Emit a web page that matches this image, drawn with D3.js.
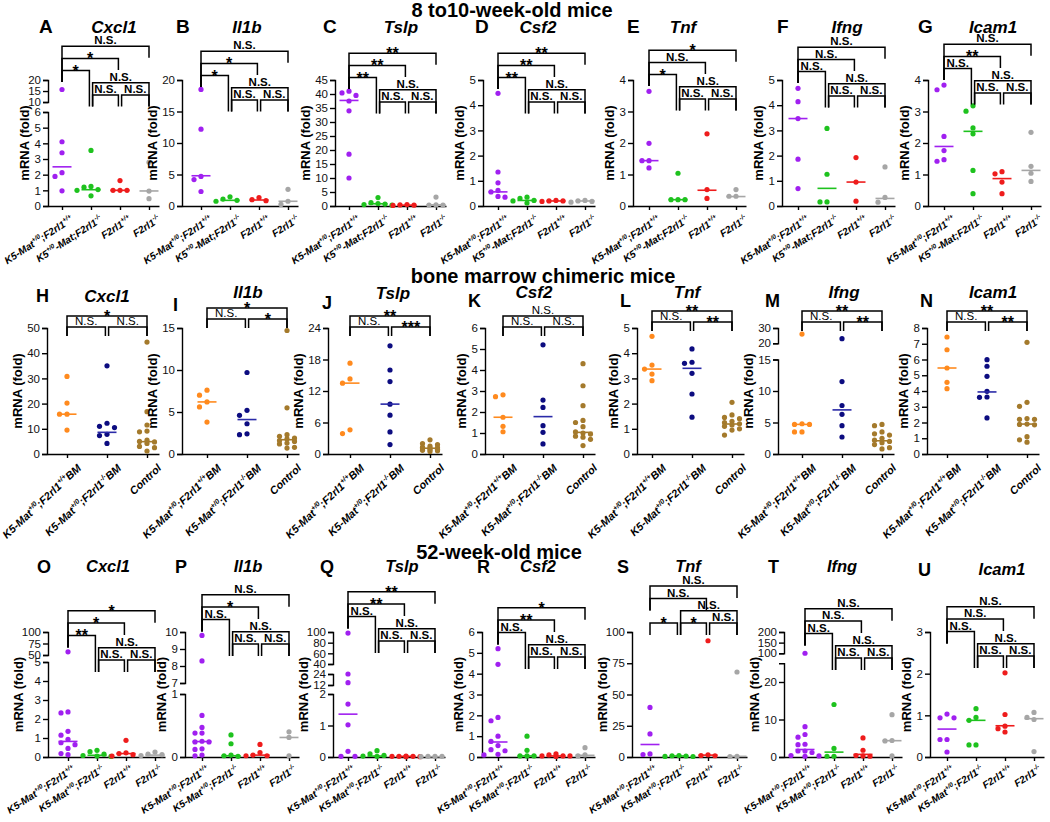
<!DOCTYPE html>
<html><head><meta charset="utf-8">
<script src="https://cdn.jsdelivr.net/npm/d3@7"></script>
<style>
body{margin:0;background:#fff}
svg{display:block}
</style>
</head><body>
<svg id="c" width="1050" height="822"></svg>
<script>
// ================= DATA =================
const rowTitles = ["8 to10-week-old mice", "bone marrow chimeric mice", "52-week-old mice"];
const genes = ["Cxcl1", "Il1b", "Tslp", "Csf2", "Tnf", "Ifng", "Icam1"];
const letters1 = ["A", "B", "C", "D", "E", "F", "G"];
const letters2 = ["H", "I", "J", "K", "L", "M", "N"];
const letters3 = ["O", "P", "Q", "R", "S", "T", "U"];
const yLabel = "mRNA (fold)";
const groups1 = ["K5-Mat^{+/0};F2rl1^{+/+}", "K5^{+/0}-Mat;F2rl1^{-/-}", "F2rl1^{+/+}", "F2rl1^{-/-}"];
const groups2 = ["K5-Mat^{+/0};F2rl1^{+/+}BM", "K5-Mat^{+/0};F2rl1^{-/-}BM", "Control"];
const groups3 = ["K5-Mat^{+/0};F2rl1^{+/+}", "K5-Mat^{+/0};F2rl1^{-/-}", "F2rl1^{+/+}", "F2rl1^{-/-}"];
// bracket pairs (order of the significance label arrays)
const pairs4 = [[0,3],[0,2],[0,1],[1,3],[1,2],[2,3]];
const pairs3 = [[0,2],[0,1],[1,2]];

// ---- 8 to 10-week-old mice ----
const A_vals = [[15.7,4.1,3.4,2.13,1.89,0.97],[3.55,1.25,1.2,1.05,1.0,0.65],[1.62,1.0,1.0,1.0],[2.8,0.95,0.47]];
const A_med = [2.5,1.04,1.0,0.96];
const A_dom = [[0,6],[10,20]];
const A_ticks = [[0,1,2,3,4,5,6],[10,15,20]];
const A_sig = ["N.S.","*","*","N.S.","N.S.","N.S."];

const B_vals = [[18.5,12.2,4.7,4.2,2.3],[1.45,1.1,0.9,0.75],[1.35,1.0,0.85],[2.65,0.75,0.25]];
const B_med = [4.8,0.9,0.95,0.75];
const B_dom = [[0,20]];
const B_ticks = [[0,5,10,15,20]];
const B_sig = ["N.S.","*","*","N.S.","N.S.","N.S."];

const C_vals = [[41,40.4,39.5,37.5,34,18.5,10],[3.0,1.2,0.9,0.7,0.5,0.3],[0.5,0.4,0.3,0.2],[3.2,0.4,0.35,0.3]];
const C_med = [37.7,0.8,0.3,0.4];
const C_dom = [[0,45]];
const C_ticks = [[0,5,10,15,20,25,30,35,40,45]];
const C_sig = ["**","**","**","N.S.","N.S.","N.S."];

const D_vals = [[4.47,1.35,0.92,0.62,0.56,0.38,0.35],[0.35,0.3,0.22,0.2,0.12],[0.22,0.2,0.2,0.18],[0.22,0.2,0.18,0.15]];
const D_med = [0.56,0.22,0.2,0.2];
const D_dom = [[0,5]];
const D_ticks = [[0,1,2,3,4,5]];
const D_sig = ["**","**","**","N.S.","N.S.","N.S."];

const E_vals = [[3.64,1.99,1.44,1.44,1.21],[1.04,0.2,0.2,0.2],[2.29,0.52,0.24],[0.52,0.31,0.31]];
const E_med = [1.44,0.2,0.5,0.3];
const E_dom = [[0,4]];
const E_ticks = [[0,1,2,3,4]];
const E_sig = ["*","N.S.","*","N.S.","N.S.","N.S."];

const F_vals = [[4.67,4.14,3.47,1.86,0.69],[3.08,1.26,0.16,0.16],[1.92,0.95,0.19],[1.55,0.34,0.15]];
const F_med = [3.47,0.7,0.95,0.3];
const F_dom = [[0,5]];
const F_ticks = [[0,1,2,3,4,5]];
const F_sig = ["N.S.","N.S.","N.S.","N.S.","N.S.","N.S."];

const G_vals = [[3.84,3.69,2.21,1.76,1.47,1.42],[3.18,3.01,2.48,2.29,1.13,0.39],[1.09,1.02,0.76,0.39],[2.34,1.26,1.04,0.78]];
const G_med = [1.89,2.37,0.87,1.13];
const G_dom = [[0,4]];
const G_ticks = [[0,1,2,3,4]];
const G_sig = ["N.S.","**","N.S.","N.S.","N.S.","N.S."];

// ---- bone marrow chimeric mice ----
const H_vals = [[30.8,20.2,15.8,15.8,9.5],[35,12.2,11,10.5,7.8,7.3,4.2],[44.4,16.8,11.5,9.1,8.8,5.5,5.0,4.8,4.2,3.0,2.5,1.2]];
const H_med = [15.8,8.6,4.9];
const H_dom = [[0,50]];
const H_ticks = [[0,10,20,30,40,50]];
const H_sig = ["*","N.S.","N.S."];

const I_vals = [[7.6,7.0,6.2,5.6,3.8],[9.7,5.2,4.6,3.6,2.4,2.3],[14.7,5.5,2.3,2.1,1.9,1.8,1.6,1.5,1.3,1.2,0.8,0.7]];
const I_med = [6.2,4.1,1.7];
const I_dom = [[0,15]];
const I_ticks = [[0,5,10,15]];
const I_sig = ["*","N.S.","*"];

const J_vals = [[17.3,14.3,13.5,4.6,3.9],[20.6,16,13.8,9.5,7.4,4.2,1.8],[2.7,2.0,1.8,1.5,1.3,1.2,1.1,1.0,0.9,0.8,0.7,0.6,0.5]];
const J_med = [13.5,9.5,1.1];
const J_dom = [[0,24]];
const J_ticks = [[0,6,12,18,24]];
const J_sig = ["**","N.S.","***"];

const K_vals = [[2.82,2.73,1.75,1.32,1.06],[5.2,2.57,2.22,1.35,1.03,0.48],[4.3,3.25,2.3,1.6,1.5,1.3,1.05,1.0,0.95,0.85,0.8,0.7,0.4]];
const K_med = [1.75,1.78,1.03];
const K_dom = [[0,6]];
const K_ticks = [[0,1,2,3,4,5,6]];
const K_sig = ["N.S.","N.S.","N.S."];

const L_vals = [[4.67,3.53,3.37,3.17,2.91],[4.17,3.64,3.6,3.2,2.38,1.46],[2.05,1.55,1.45,1.4,1.3,1.25,1.2,1.15,1.1,1.0,0.95,0.75]];
const L_med = [3.37,3.4,1.19];
const L_dom = [[0,5]];
const L_ticks = [[0,1,2,3,4,5]];
const L_sig = ["**","N.S.","**"];

const M_vals = [[26,4.8,4.7,4.7,3.5,3.5],[23,11.5,7.7,6.3,4.5,2.7],[4.7,4.5,3.5,3.2,3.0,2.5,2.2,2.0,1.8,1.5,1.0,0.8]];
const M_med = [4.7,7.0,2.1];
const M_dom = [[0,15],[20,30]];
const M_ticks = [[0,5,10,15],[20,30]];
const M_sig = ["**","N.S.","**"];

const N_vals = [[7.43,6.62,5.46,4.55,4.15],[5.99,5.57,4.93,3.98,3.62,3.6,2.29],[7.09,3.28,3.03,2.25,2.2,2.2,1.9,1.88,1.85,1.1,0.9,0.75]];
const N_med = [5.46,3.94,1.9];
const N_dom = [[0,8]];
const N_ticks = [[0,1,2,3,4,5,6,7,8]];
const N_sig = ["**","N.S.","**"];

// ---- 52-week-old mice ----
const O_vals = [[57,2.37,2.32,1.35,1.15,0.93,0.75,0.65,0.45,0.18,0.12],[0.35,0.28,0.15,0.08,0.05,0.03],[0.88,0.22,0.18,0.12,0.05],[0.26,0.15,0.12,0.08]];
const O_med = [0.82,0.09,0.18,0.1];
const O_dom = [[0,5],[50,100]];
const O_ticks = [[0,1,2,3,4,5],[50,75,100]];
const O_sig = ["*","*","**","N.S.","N.S.","N.S."];

const P_vals = [[9.8,8.3,0.66,0.47,0.38,0.38,0.25,0.24,0.24,0.13,0.12,0.03,0.02],[0.35,0.21,0.03,0.02,0.01],[0.2,0.07,0.03,0.02,0.02],[0.4,0.31,0.02]];
const P_med = [0.245,0.02,0.03,0.31];
const P_dom = [[0,1],[7,10]];
const P_ticks = [[0,1],[7,8,9,10]];
const P_sig = ["N.S.","*","N.S.","N.S.","N.S.","N.S."];

const Q_vals = [[98,24,14.5,1.68,1.02,0.18,0.02,0.02],[0.2,0.1,0.05,0.03,0.02],[0.03,0.02,0.02,0.02,0.01,0.01],[0.02,0.02,0.02,0.01]];
const Q_med = [1.36,0.03,0.02,0.01];
const Q_dom = [[0,2],[12,24],[40,100]];
const Q_ticks = [[0,1,2],[12,24],[40,60,80,100]];
const Q_sig = ["**","**","N.S.","N.S.","N.S.","N.S."];

const R_vals = [[5.2,4.45,1.9,1.74,1.0,0.75,0.55,0.35,0.3,0.13,0.1],[1.0,0.32,0.05,0.05,0.05],[0.15,0.1,0.05,0.05,0.05,0.03],[0.45,0.1,0.05]];
const R_med = [0.72,0.05,0.05,0.08];
const R_dom = [[0,6]];
const R_ticks = [[0,1,2,3,4,5,6]];
const R_sig = ["*","**","N.S.","N.S.","N.S.","N.S."];

const S_vals = [[39.7,18.5,2.5,2.0],[1.2,1.0,0.8,0.5,0.4],[93,1.8,1.2,1.0],[68,0.6,0.4]];
const S_med = [10,0.8,1.5,0.5];
const S_dom = [[0,100]];
const S_ticks = [[0,25,50,75,100]];
const S_sig = ["N.S.","N.S.","*","N.S.","*","N.S."];

const T_vals = [[100,8.1,6.0,5.3,3.4,3.3,1.6,1.6,1.2,0.4,0.3,0.2],[14,2.3,0.2,0.2],[5.1,1.8,0.4,0.3,0.2],[11.3,4.4,4.3,0.3]];
const T_med = [2.0,1.3,0.7,4.35];
const T_dom = [[0,25],[100,200]];
const T_ticks = [[0,10,20],[100,150,200]];
const T_sig = ["N.S.","N.S.","N.S.","N.S.","N.S.","N.S."];

const U_vals = [[1.03,0.94,0.94,0.42,0.42,0.12],[1.16,0.95,0.88,0.29,0.29],[2.02,1.02,0.74,0.68,0.6],[1.07,0.95,0.9,0.13]];
const U_med = [0.67,0.88,0.75,0.92];
const U_dom = [[0,3]];
const U_ticks = [[0,1,2,3]];
const U_sig = ["N.S.","N.S.","N.S.","N.S.","N.S.","N.S."];

// ================= STYLE / LAYOUT =================
const FONT = "'Liberation Sans', Arial, Helvetica, sans-serif";
const colors4 = ["#a020f0", "#1ec21e", "#ee1c1c", "#a6a6a6"];
const colors3 = ["#ff8a1e", "#0c0c80", "#a47a2c"];
const medColors3 = ["#ff8a1e", "#2a2aa8", "#a47a2c"];
const levels4 = [4,3,2,1,0,0];
const levels4S = [3,2,0,1,0,0];
const levels3 = [1,0,0];

const row1 = {yB:206, yT:80, step:29, padR:10, angle:-33, ldx:12, ldy:15, lfs:10.1, spacing:12.2, leg:11.5, nsWeight:"bold", s:7, maxK:4, letterY:33, geneY:33, letterFs:19, geneFs:17};
const row2 = {yB:454, yT:328, step:40, padR:12, angle:-43, ldx:15, ldy:15, lfs:10.9, spacing:11, leg:9, nsWeight:"normal", s:7.5, maxK:2, letterY:307, geneY:298, letterFs:18, geneFs:17};
const row3 = {yB:757, yT:632, step:29, padR:10, angle:-33, ldx:8, ldy:14, lfs:10, spacing:12.3, leg:12, nsWeight:"bold", s:7, maxK:4, letterY:573, geneY:572, letterFs:18, geneFs:16.5};

const lay1 = [
  {axisX:48, padL:14, letterX:39, geneX:114, base0:95, frac:[[0,0.746],[0.825,1]]},
  {axisX:182, padL:19, letterX:176, geneX:247, base0:100},
  {axisX:335, padL:14, letterX:323, geneX:401, base0:102},
  {axisX:483, padL:15, letterX:475, geneX:538, base0:102},
  {axisX:633, padL:16, letterX:627, geneX:683, base0:99},
  {axisX:782, padL:16, letterX:777, geneX:847, base0:96},
  {axisX:928, padL:16, letterX:918, geneX:993, base0:93}
];
const lay2 = [
  {axisX:47, padL:20, letterX:36, letterY:302, geneX:107, geneY:302, base0:327},
  {axisX:182, padL:25, letterX:173, letterY:311, geneX:248, base0:319},
  {axisX:328, padL:22, letterX:322, letterY:309, geneX:393, geneY:299, base0:327},
  {axisX:485, padL:18, letterX:468, geneX:534, base0:327},
  {axisX:637, padL:15, letterX:620, geneX:687, base0:322},
  {axisX:778, padL:24, letterX:765, geneX:844, base0:322, frac:[[0,0.75],[0.879,1]]},
  {axisX:927, padL:20, letterX:920, geneX:993, base0:322}
];
const lay3 = [
  {axisX:48, padL:20, letterX:37, geneX:108, base0:660, frac:[[0,0.76],[0.816,1]]},
  {axisX:185, padL:17, letterX:175, geneX:248, base0:644, frac:[[0,0.504],[0.592,1]]},
  {axisX:333, padL:15, letterX:320, geneX:402, base0:641, frac:[[0,0.504],[0.576,0.664],[0.744,1]]},
  {axisX:482, padL:16, letterX:477, geneX:538, base0:657},
  {axisX:632, padL:18, letterX:617, geneX:688, base0:623},
  {axisX:784, padL:21, letterX:768, geneX:842, base0:658, frac:[[0,0.75],[0.83,1]]},
  {axisX:930, padL:17, letterX:918, letterY:576, geneX:1002, geneY:575, base0:656}
];

const svg = d3.select("#c");

function dodge(arr, y, gx, s, maxK) {
  const pts = arr.map(v => ({v, y: y(v)})).sort((a, b) => a.y - b.y);
  const placed = [];
  const thr = 5.4;
  pts.forEach(p => {
    let best = gx, bestD = -1;
    for (let k = 0; k <= maxK; k++) {
      const off = k === 0 ? 0 : (k % 2 ? -1 : 1) * Math.ceil(k / 2) * s;
      const cx = gx + off;
      const dmin = placed.length ? d3.min(placed, q => Math.hypot(q.x - cx, q.y - p.y)) : Infinity;
      if (dmin >= thr) { best = cx; bestD = dmin; break; }
      if (dmin > bestD) { bestD = dmin; best = cx; }
    }
    p.x = best; placed.push(p);
  });
  return placed;
}

function addRich(textSel, str, fs) {
  const parts = str.split(/\^\{([^}]*)\}/);
  let shifted = false;
  parts.forEach((part, i) => {
    if (!part) return;
    const sup = i % 2 === 1;
    const t = textSel.append("tspan").text(part).attr("font-size", sup ? fs * 0.64 : fs);
    if (sup && !shifted) { t.attr("dy", -fs * 0.42); shifted = true; }
    else if (!sup && shifted) { t.attr("dy", fs * 0.42); shifted = false; }
  });
}

function drawPanel(P, R, L) {
  const g = svg.append("g");
  const H = R.yB - R.yT;
  const fr = L.frac || [[0, 1]];
  const segs = P.dom.map((d, k) => d3.scaleLinear().domain(d).range([R.yB - fr[k][0] * H, R.yB - fr[k][1] * H]));
  const y = v => {
    let k = segs.findIndex(s => v >= s.domain()[0] && v <= s.domain()[1]);
    if (k < 0) { k = 0; segs.forEach((s, i) => { if (v >= s.domain()[0]) k = i; }); }
    return segs[k](v);
  };
  // y axis (one axis per segment, broken axes)
  const yax = g.append("g").attr("transform", `translate(${L.axisX},0)`);
  segs.forEach((s, k) => {
    yax.append("g").call(d3.axisLeft(s).tickValues(P.ticks[k]).tickSize(5).tickSizeOuter(5).tickPadding(2).tickFormat(d3.format("~g")));
  });
  yax.selectAll("path,line").attr("stroke", "#000").attr("stroke-width", 1.4);
  yax.selectAll("text").attr("font-size", 11.5).attr("fill", "#111").attr("font-family", FONT);
  // y title: placed left of the tick labels that lie beside it
  const mid = (R.yB + R.yT) / 2;
  let left = 0;
  yax.selectAll(".tick").each(function () {
    const m = /translate\(\s*[-\d.e]+\s*,\s*([-\d.e]+)\s*\)/.exec(this.getAttribute("transform"));
    const ty = m ? +m[1] : 0;
    if (Math.abs(ty - mid) < 40) left = Math.min(left, this.querySelector("text").getBBox().x);
  });
  g.append("text").attr("transform", `translate(${L.axisX + left - 5.5},${mid}) rotate(-90)`)
    .attr("text-anchor", "middle").attr("font-family", FONT).attr("font-weight", "bold").attr("font-size", 13).text(yLabel);

  // x axis
  const n = P.groups.length;
  const W = L.padL + R.step * (n - 1) + R.padR;
  const x = d3.scalePoint().domain(d3.range(n)).range([L.axisX, L.axisX + W])
    .padding((W / R.step - (n - 1)) / 2).align(L.padL / (L.padL + R.padR));
  const xax = g.append("g").attr("transform", `translate(0,${R.yB})`)
    .call(d3.axisBottom(x).tickSize(4).tickSizeOuter(0).tickFormat(""));
  xax.selectAll("path,line").attr("stroke", "#000").attr("stroke-width", 1.4);
  P.groups.forEach((lab, i) => {
    const t = g.append("text")
      .attr("transform", `translate(${x(i) + R.ldx},${R.yB + R.ldy}) rotate(${R.angle})`)
      .attr("text-anchor", "end").attr("font-family", FONT).attr("font-weight", "bold").attr("font-style", "italic").attr("fill", "#000");
    addRich(t, lab, R.lfs);
  });

  // dots + median lines
  P.vals.forEach((arr, gi) => {
    const pts = dodge(arr, y, x(gi), R.s, R.maxK);
    g.append("g").selectAll("circle").data(pts).join("circle")
      .attr("cx", d => d.x).attr("cy", d => d.y).attr("r", 2.6).attr("fill", P.colors[gi]);
    g.append("line").attr("x1", x(gi) - 9.5).attr("x2", x(gi) + 9.5)
      .attr("y1", y(P.med[gi])).attr("y2", y(P.med[gi]))
      .attr("stroke", P.medColors[gi]).attr("stroke-width", 1.6);
  });

  // significance brackets
  const br = P.pairs.map((pr, k) => ({i: pr[0], j: pr[1], t: P.sig[k], lev: P.levels[k]}));
  const yl = lev => L.base0 - lev * R.spacing;
  const legBottom = (b, gi) => {
    const c = br.find(c => c.lev === b.lev - 1 && (c.i === gi || c.j === gi));
    return c ? legBottom(c, gi) : yl(b.lev) + R.leg;
  };
  br.forEach(b => {
    const x1 = x(b.i) + (br.some(c => c.j === b.i) ? 1.6 : 0);
    const x2 = x(b.j) - (br.some(c => c.i === b.j) ? 1.6 : 0);
    const yy = yl(b.lev);
    g.append("path").attr("d", `M${x1},${legBottom(b, b.i)}V${yy}H${x2}V${legBottom(b, b.j)}`)
      .attr("fill", "none").attr("stroke", "#000").attr("stroke-width", 1.5);
    const star = b.t.startsWith("*");
    g.append("text").attr("x", (x1 + x2) / 2).attr("y", star ? yy + 6 : yy - 1.8)
      .attr("text-anchor", "middle").attr("font-family", FONT)
      .attr("font-weight", star ? "bold" : R.nsWeight).attr("font-size", star ? 16 : 11.5).text(b.t);
  });

  // titles
  g.append("text").attr("x", L.letterX).attr("y", L.letterY ?? R.letterY).attr("font-family", FONT)
    .attr("font-weight", "bold").attr("font-size", R.letterFs).text(P.letter);
  g.append("text").attr("x", L.geneX).attr("y", L.geneY ?? R.geneY).attr("text-anchor", "middle").attr("font-family", FONT)
    .attr("font-weight", "bold").attr("font-style", "italic").attr("font-size", R.geneFs).text(P.gene);
}

const row1Data = [
  [A_vals, A_med, A_dom, A_ticks, A_sig], [B_vals, B_med, B_dom, B_ticks, B_sig], [C_vals, C_med, C_dom, C_ticks, C_sig],
  [D_vals, D_med, D_dom, D_ticks, D_sig], [E_vals, E_med, E_dom, E_ticks, E_sig], [F_vals, F_med, F_dom, F_ticks, F_sig],
  [G_vals, G_med, G_dom, G_ticks, G_sig]];
const row2Data = [
  [H_vals, H_med, H_dom, H_ticks, H_sig], [I_vals, I_med, I_dom, I_ticks, I_sig], [J_vals, J_med, J_dom, J_ticks, J_sig],
  [K_vals, K_med, K_dom, K_ticks, K_sig], [L_vals, L_med, L_dom, L_ticks, L_sig], [M_vals, M_med, M_dom, M_ticks, M_sig],
  [N_vals, N_med, N_dom, N_ticks, N_sig]];
const row3Data = [
  [O_vals, O_med, O_dom, O_ticks, O_sig], [P_vals, P_med, P_dom, P_ticks, P_sig], [Q_vals, Q_med, Q_dom, Q_ticks, Q_sig],
  [R_vals, R_med, R_dom, R_ticks, R_sig], [S_vals, S_med, S_dom, S_ticks, S_sig], [T_vals, T_med, T_dom, T_ticks, T_sig],
  [U_vals, U_med, U_dom, U_ticks, U_sig]];

row1Data.forEach((d, k) => drawPanel({letter: letters1[k], gene: genes[k], groups: groups1, vals: d[0], med: d[1], dom: d[2], ticks: d[3], sig: d[4],
  pairs: pairs4, levels: levels4, colors: colors4, medColors: colors4}, row1, lay1[k]));
row2Data.forEach((d, k) => drawPanel({letter: letters2[k], gene: genes[k], groups: groups2, vals: d[0], med: d[1], dom: d[2], ticks: d[3], sig: d[4],
  pairs: pairs3, levels: levels3, colors: colors3, medColors: medColors3}, row2, lay2[k]));
row3Data.forEach((d, k) => drawPanel({letter: letters3[k], gene: genes[k], groups: groups3, vals: d[0], med: d[1], dom: d[2], ticks: d[3], sig: d[4],
  pairs: pairs4, levels: k === 4 ? levels4S : levels4, colors: colors4, medColors: colors4}, row3, lay3[k]));

// row titles
[[rowTitles[0], 512, 16.5], [rowTitles[1], 543, 283], [rowTitles[2], 499, 559]].forEach(([t, cx, cy]) => {
  svg.append("text").attr("x", cx).attr("y", cy).attr("text-anchor", "middle").attr("font-family", FONT)
    .attr("font-weight", "bold").attr("font-size", 20).text(t);
});
</script>
</body></html>
